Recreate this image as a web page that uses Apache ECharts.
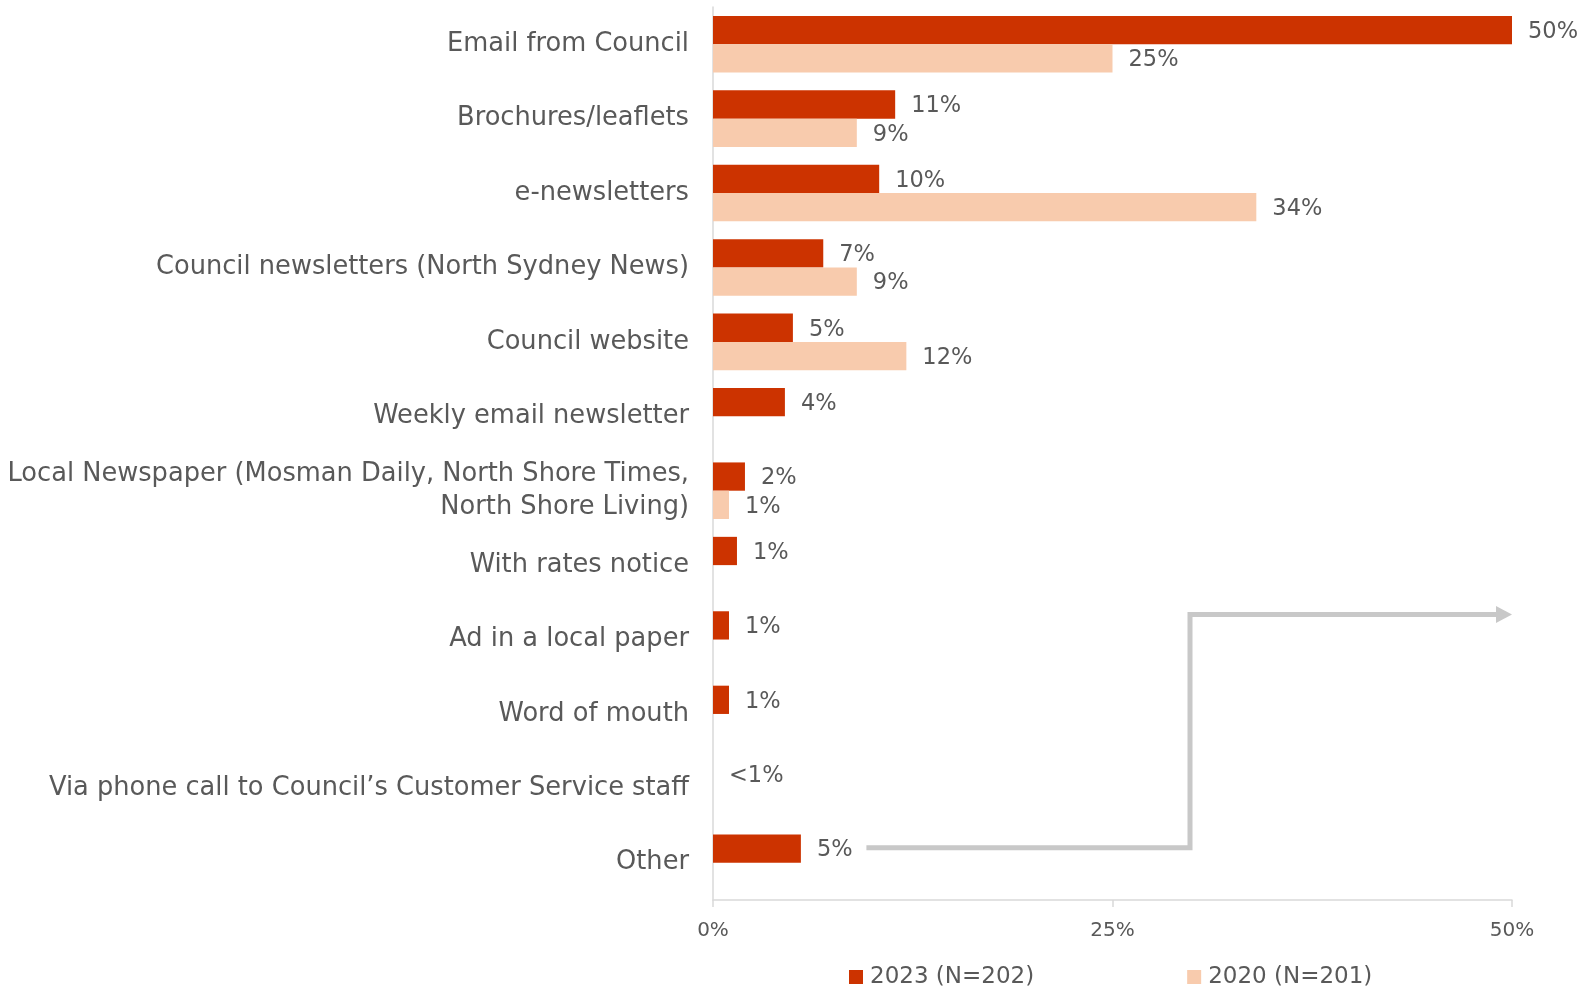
<!DOCTYPE html>
<html><head><meta charset="utf-8">
<script src="https://cdn.jsdelivr.net/npm/echarts@6/dist/echarts.min.js"></script>
<style>html,body{margin:0;padding:0;background:#fff}#c{width:1583px;height:991px}</style>
</head><body><div id="c"></div>
<script>
const categories = [
  "Email from Council",
  "Brochures/leaflets",
  "e-newsletters",
  "Council newsletters (North Sydney News)",
  "Council website",
  "Weekly email newsletter",
  "Local Newspaper (Mosman Daily, North Shore Times,\nNorth Shore Living)",
  "With rates notice",
  "Ad in a local paper",
  "Word of mouth",
  "Via phone call to Council\u2019s Customer Service staff",
  "Other"
];
const values2023 = [50, 11.4, 10.4, 6.9, 5.0, 4.5, 2.0, 1.5, 1.0, 1.0, 0, 5.5];
const labels2023 = ["50%", "11%", "10%", "7%", "5%", "4%", "2%", "1%", "1%", "1%", "<1%", "5%"];
const values2020 = [25.0, 9.0, 34.0, 9.0, 12.1, null, 1.0, null, null, null, null, null];
const labels2020 = ["25%", "9%", "34%", "9%", "12%", "", "1%", "", "", "", "", ""];
const xTicks = [0, 25, 50];
const seriesNames = ["2023 (N=202)", "2020 (N=201)"];

const FONT = "DejaVu Sans";
const TXT = "#595959";
const chart = echarts.init(document.getElementById('c'));
const option = {
  animation: false,
  textStyle: {fontFamily: FONT},
  grid: {left: 713, right: 71, top: 7, bottom: 91, containLabel: false},
  legend: {
    top: 963, left: 849, padding: 0, itemWidth: 14, itemHeight: 14, itemGap: 153,
    icon: 'rect',
    textStyle: {fontFamily: FONT, fontSize: 23, color: TXT, lineHeight: 28, padding: [0, 0, 0, 2]},
    data: seriesNames
  },
  xAxis: {
    type: 'value', min: 0, max: 50, interval: 25,
    axisLine: {show: true, lineStyle: {color: '#D9D9D9', width: 1.5}},
    axisTick: {show: true, length: 7, lineStyle: {color: '#D9D9D9', width: 1.5}},
    splitLine: {show: false},
    axisLabel: {fontFamily: FONT, fontSize: 20, color: TXT, margin: 21,
      formatter: v => xTicks.includes(v) ? v + '%' : ''}
  },
  yAxis: {
    type: 'category', data: categories, inverse: true,
    axisLine: {show: true, lineStyle: {color: '#D9D9D9', width: 1.5}},
    axisTick: {show: false},
    axisLabel: {fontFamily: FONT, fontSize: 25.7, color: TXT, margin: 24, lineHeight: 33, align: 'right'}
  },
  series: [
    {
      name: seriesNames[0], type: 'bar', data: values2023,
      barGap: '0%', barCategoryGap: '24%',
      itemStyle: {color: '#CC3300'},
      label: {show: true, position: 'right', distance: 16, offset: [0, 2], fontFamily: FONT, fontSize: 22.5, color: TXT,
        formatter: p => labels2023[p.dataIndex]}
    },
    {
      name: seriesNames[1], type: 'bar', data: values2020,
      barGap: '0%', barCategoryGap: '24%',
      itemStyle: {color: '#F8CBAD'},
      label: {show: true, position: 'right', distance: 16, offset: [0, 2], fontFamily: FONT, fontSize: 22.5, color: TXT,
        formatter: p => labels2020[p.dataIndex]}
    }
  ]
};
chart.setOption(option);

// annotation arrow from "Other" to the top-right
const pA = chart.convertToPixel({gridIndex: 0}, [9.6, 11]);
const pB = chart.convertToPixel({gridIndex: 0}, [29.85, 11]);
const pC = chart.convertToPixel({gridIndex: 0}, [29.85, 8]);
const pD = chart.convertToPixel({gridIndex: 0}, [50, 8]);
const yLow = pA[1] - 15;
const yHigh = pC[1] - 25;
chart.setOption({
  graphic: [
    {type: 'polyline', shape: {points: [[pA[0], yLow], [pB[0], yLow], [pC[0], yHigh], [pD[0] - 14, yHigh]]},
      style: {stroke: '#C8C8C8', lineWidth: 5, fill: null}, z: 10},
    {type: 'polygon', shape: {points: [[pD[0] - 16, yHigh - 8.5], [pD[0], yHigh], [pD[0] - 16, yHigh + 8.5]]},
      style: {fill: '#C8C8C8'}, z: 10}
  ]
});
</script>
</body></html>
